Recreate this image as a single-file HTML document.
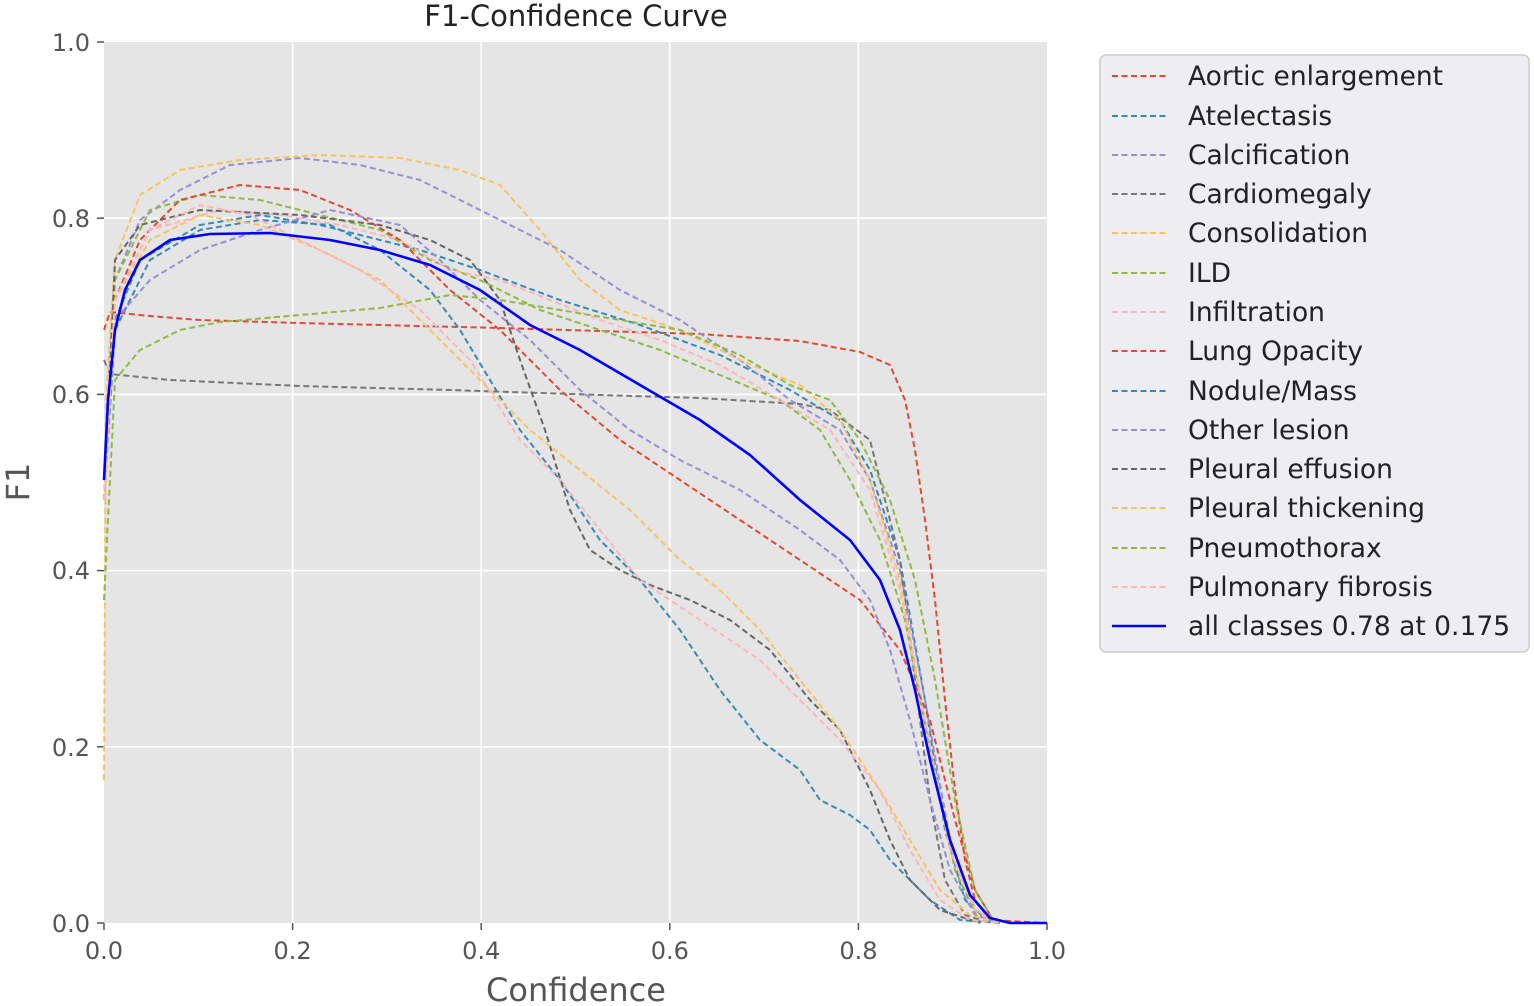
<!DOCTYPE html>
<html><head><meta charset="utf-8"><style>
body{margin:0;background:#fff;}
svg{display:block;font-family:"DejaVu Sans","Liberation Sans",sans-serif;}
.c{fill:none;stroke-width:2;stroke-dasharray:6 3.5;}
</style></head><body>
<svg width="1534" height="1006" viewBox="0 0 1534 1006">
<rect x="104" y="42" width="943" height="881" fill="#e5e5e5"/>
<g stroke="#fff" stroke-width="1.6">
<line x1="292.6" y1="42" x2="292.6" y2="923"/><line x1="481.2" y1="42" x2="481.2" y2="923"/>
<line x1="669.8" y1="42" x2="669.8" y2="923"/><line x1="858.4" y1="42" x2="858.4" y2="923"/>
<line x1="104" y1="746.8" x2="1047" y2="746.8"/><line x1="104" y1="570.6" x2="1047" y2="570.6"/>
<line x1="104" y1="394.4" x2="1047" y2="394.4"/><line x1="104" y1="218.2" x2="1047" y2="218.2"/>
</g>
<g stroke="#555" stroke-width="1.5">
<line x1="104" y1="923" x2="104" y2="930"/><line x1="292.6" y1="923" x2="292.6" y2="930"/><line x1="481.2" y1="923" x2="481.2" y2="930"/><line x1="669.8" y1="923" x2="669.8" y2="930"/><line x1="858.4" y1="923" x2="858.4" y2="930"/><line x1="1047" y1="923" x2="1047" y2="930"/>
<line x1="97" y1="923" x2="104" y2="923"/><line x1="97" y1="746.8" x2="104" y2="746.8"/><line x1="97" y1="570.6" x2="104" y2="570.6"/><line x1="97" y1="394.4" x2="104" y2="394.4"/><line x1="97" y1="218.2" x2="104" y2="218.2"/><line x1="97" y1="42" x2="104" y2="42"/>
</g>
<g fill="#555" font-size="24" text-anchor="middle">
<text x="104" y="959">0.0</text><text x="292.6" y="959">0.2</text><text x="481.2" y="959">0.4</text><text x="669.8" y="959">0.6</text><text x="858.4" y="959">0.8</text><text x="1047" y="959">1.0</text>
</g>
<g fill="#555" font-size="24" text-anchor="end">
<text x="90" y="932">0.0</text><text x="90" y="756">0.2</text><text x="90" y="579">0.4</text><text x="90" y="403">0.6</text><text x="90" y="227">0.8</text><text x="90" y="51">1.0</text>
</g>
<text x="576" y="26" font-size="29" text-anchor="middle" fill="#222">F1-Confidence Curve</text>
<text x="576" y="1001" font-size="32" text-anchor="middle" fill="#555">Confidence</text>
<text transform="translate(29,482) rotate(-90)" font-size="32" text-anchor="middle" fill="#555">F1</text>

<polyline class="c" stroke="#e24a33" points="104,330 110,312 150,316 200,320 300,323 500,328 700,334 800,341 860,352 890,365 905,400 915,450 925,520 935,600 945,700 955,790 965,860 975,900 990,920 1047,923"/>
<polyline class="c" stroke="#348abd" points="104,500 115,320 140,260 200,225 260,215 320,225 380,240 420,250 480,270 560,300 640,325 720,355 790,390 840,420 870,470 900,560 925,700 945,830 965,900 990,923"/>
<polyline class="c" stroke="#988ed5" points="104,500 115,280 140,220 180,190 230,165 300,158 360,165 420,180 460,200 500,220 560,250 620,290 680,320 740,360 790,400 840,430 870,480 900,570 925,700 950,840 975,910 1000,923"/>
<polyline class="c" stroke="#777" points="104,360 110,374 170,380 300,386 450,390 600,395 700,398 800,404 830,410 870,440 900,560 915,680 930,800 945,880 965,915 990,923"/>
<polyline class="c" stroke="#fbc15e" points="104,780 106,400 115,260 140,195 180,170 240,160 320,155 400,158 460,170 500,185 540,230 580,280 620,310 680,330 740,360 800,385 840,420 870,480 900,580 925,720 950,850 975,910 1000,923"/>
<polyline class="c" stroke="#8eba42" points="104,500 115,280 150,210 200,195 260,200 320,215 380,230 430,260 480,280 540,310 600,330 660,350 720,375 780,400 820,430 850,480 880,540 905,620 930,750 955,870 980,923"/>
<polyline class="c" stroke="#ffb5b8" points="104,500 115,300 150,230 220,210 280,215 340,225 400,240 450,270 500,280 550,300 600,320 660,340 720,365 780,400 830,430 870,490 900,590 925,720 950,850 975,910 1000,923"/>
<polyline class="c" stroke="#e24a33" points="104,500 115,300 140,240 180,200 240,185 300,190 350,210 400,240 450,290 500,330 560,390 620,440 680,480 740,520 800,560 860,600 900,650 930,720 955,820 975,890 995,923"/>
<polyline class="c" stroke="#348abd" points="104,500 115,330 150,260 200,230 260,220 330,225 380,250 430,290 460,330 490,380 520,430 560,480 600,540 640,580 680,630 720,690 760,740 800,770 820,800 850,815 870,830 890,860 910,880 930,900 960,920 1000,923"/>
<polyline class="c" stroke="#988ed5" points="104,500 115,320 150,280 200,250 260,230 330,210 400,225 440,260 480,300 530,340 580,390 630,430 680,460 740,490 800,530 840,560 870,600 890,650 910,720 930,800 950,870 975,915 1000,923"/>
<polyline class="c" stroke="#666" points="104,500 115,260 140,225 200,210 300,215 380,225 430,240 470,260 500,300 520,360 545,430 570,510 590,550 620,570 650,585 690,600 730,620 770,650 810,700 840,730 870,790 890,840 910,880 940,910 980,923"/>
<polyline class="c" stroke="#fbc15e" points="104,500 115,300 150,240 200,215 260,225 320,250 380,280 430,330 480,380 530,430 580,470 630,510 680,560 720,590 760,630 800,680 840,730 880,790 910,840 940,890 970,915 1000,923"/>
<polyline class="c" stroke="#8eba42" points="104,600 115,380 140,350 180,330 220,322 300,315 380,308 450,295 500,300 560,310 620,320 680,330 740,355 790,385 830,400 860,440 890,500 915,580 935,680 955,800 975,890 995,923"/>
<polyline class="c" stroke="#ffb5b8" points="104,500 115,300 150,230 200,205 250,215 300,240 360,270 420,310 470,360 520,440 560,480 600,530 640,580 700,620 760,660 800,700 840,740 880,790 910,850 940,900 970,920 1000,923"/>
<polyline fill="none" stroke="#0000ff" stroke-width="2.6" points="104,480 108,400 115,330 125,290 140,260 170,240 210,234 270,233 330,240 380,250 430,265 480,290 530,325 580,350 640,385 700,420 750,455 800,500 850,540 880,580 900,630 915,690 930,760 950,840 970,895 990,918 1010,923 1047,923"/>

<rect x="1100" y="55" width="429" height="597" rx="6" fill="#eeeef2" stroke="#ccc" stroke-width="1.5"/>
<g stroke-width="2" stroke-dasharray="6 3.5">
<line x1="1112" y1="76" x2="1166" y2="76" stroke="#e24a33"/>
<line x1="1112" y1="116" x2="1166" y2="116" stroke="#348abd"/>
<line x1="1112" y1="155" x2="1166" y2="155" stroke="#988ed5"/>
<line x1="1112" y1="194" x2="1166" y2="194" stroke="#777"/>
<line x1="1112" y1="233" x2="1166" y2="233" stroke="#fbc15e"/>
<line x1="1112" y1="273" x2="1166" y2="273" stroke="#8eba42"/>
<line x1="1112" y1="312" x2="1166" y2="312" stroke="#ffb5b8"/>
<line x1="1112" y1="351" x2="1166" y2="351" stroke="#e24a33"/>
<line x1="1112" y1="391" x2="1166" y2="391" stroke="#348abd"/>
<line x1="1112" y1="430" x2="1166" y2="430" stroke="#988ed5"/>
<line x1="1112" y1="469" x2="1166" y2="469" stroke="#666"/>
<line x1="1112" y1="508" x2="1166" y2="508" stroke="#fbc15e"/>
<line x1="1112" y1="548" x2="1166" y2="548" stroke="#8eba42"/>
<line x1="1112" y1="587" x2="1166" y2="587" stroke="#ffb5b8"/>
</g>
<line x1="1112" y1="626" x2="1166" y2="626" stroke="#0000ff" stroke-width="2.6"/>
<g font-size="26.5" fill="#222">
<text x="1188" y="85">Aortic enlargement</text>
<text x="1188" y="125">Atelectasis</text>
<text x="1188" y="164">Calcification</text>
<text x="1188" y="203">Cardiomegaly</text>
<text x="1188" y="242">Consolidation</text>
<text x="1188" y="282">ILD</text>
<text x="1188" y="321">Infiltration</text>
<text x="1188" y="360">Lung Opacity</text>
<text x="1188" y="400">Nodule/Mass</text>
<text x="1188" y="439">Other lesion</text>
<text x="1188" y="478">Pleural effusion</text>
<text x="1188" y="517">Pleural thickening</text>
<text x="1188" y="557">Pneumothorax</text>
<text x="1188" y="596">Pulmonary fibrosis</text>
<text x="1188" y="635">all classes 0.78 at 0.175</text>
</g>
</svg>
</body></html>
